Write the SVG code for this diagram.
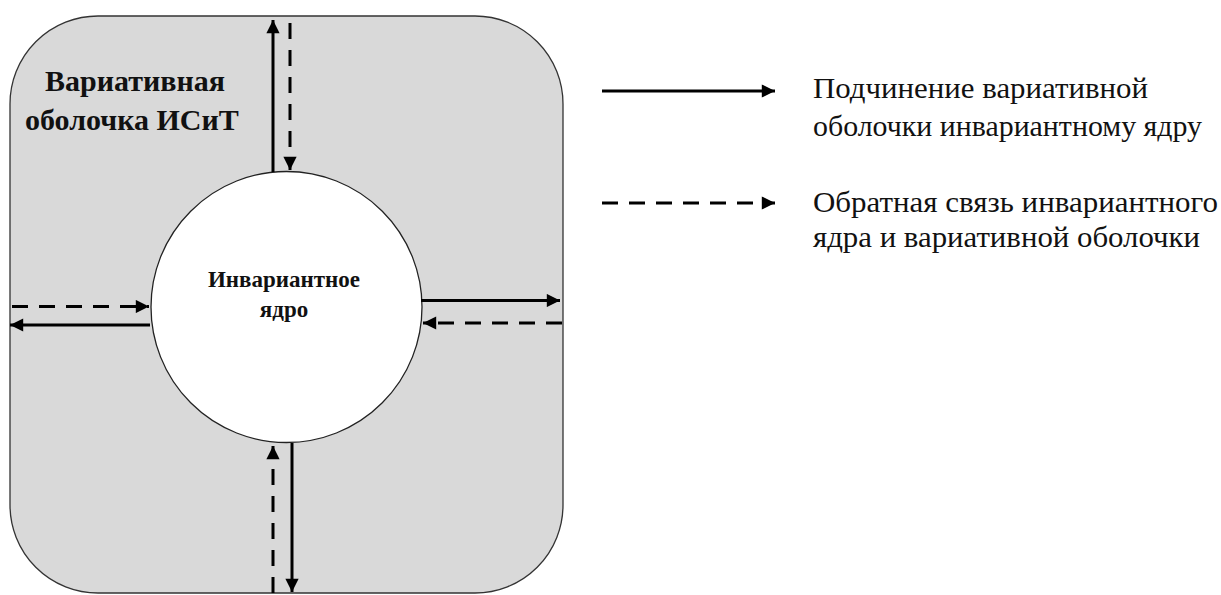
<svg xmlns="http://www.w3.org/2000/svg" width="1221" height="595" viewBox="0 0 1221 595">
<style>
text{font-family:'Liberation Serif','Noto Serif','DejaVu Serif',serif;fill:#111}
.title{font-weight:bold;font-size:30px}
.core{font-weight:bold;font-size:23px}
.leg{font-size:29px}
.solid{stroke:#000;stroke-width:3;fill:none}
.dash{stroke:#000;stroke-width:3;fill:none;stroke-dasharray:16 11}
</style>
<defs>
<marker id="ah" viewBox="0 0 10 10" refX="10" refY="5" markerWidth="5" markerHeight="4.4" markerUnits="strokeWidth" orient="auto">
<path d="M0,0 L10,5 L0,10 Z" fill="#000"/>
</marker>
</defs>
<g id="shell">
<rect x="10" y="16" width="553" height="577" rx="88" ry="88" fill="#d9d9d9" stroke="#333" stroke-width="1.3"/>
<text class="title" x="45" y="91">Вариативная</text>
<text class="title" x="25" y="130">оболочка ИСиТ</text>
</g>
<g id="core">
<circle cx="286.5" cy="307" r="135.5" fill="#fff" stroke="#222" stroke-width="1.3"/>
<text class="core" x="284" y="287" text-anchor="middle">Инвариантное</text>
<text class="core" x="284" y="317" text-anchor="middle">ядро</text>
</g>
<g id="connectors">
<line class="solid" x1="273" y1="172" x2="273" y2="20" marker-end="url(#ah)"/>
<line class="dash" x1="290" y1="23" x2="290" y2="170" marker-end="url(#ah)"/>
<line class="dash" x1="12" y1="306.5" x2="149" y2="306.5" marker-end="url(#ah)"/>
<line class="solid" x1="150" y1="325" x2="10" y2="325" marker-end="url(#ah)"/>
<line class="solid" x1="421" y1="300.5" x2="560" y2="300.5" marker-end="url(#ah)"/>
<line class="dash" x1="562" y1="323" x2="423" y2="323" marker-end="url(#ah)"/>
<line class="dash" x1="273" y1="593" x2="273" y2="446" marker-end="url(#ah)"/>
<line class="solid" x1="292" y1="443" x2="292" y2="592" marker-end="url(#ah)"/>
</g>
<g id="legend">
<line class="solid" x1="602" y1="91" x2="775" y2="91" marker-end="url(#ah)"/>
<line class="dash" x1="602" y1="203" x2="775" y2="203" marker-end="url(#ah)"/>
<text class="leg" x="813" y="98" textLength="335" lengthAdjust="spacingAndGlyphs">Подчинение вариативной</text>
<text class="leg" x="813" y="136" textLength="389" lengthAdjust="spacingAndGlyphs">оболочки инвариантному ядру</text>
<text class="leg" x="813" y="212" textLength="405" lengthAdjust="spacingAndGlyphs">Обратная связь инвариантного</text>
<text class="leg" x="813" y="247" textLength="387" lengthAdjust="spacingAndGlyphs">ядра и вариативной оболочки</text>
</g>
</svg>
